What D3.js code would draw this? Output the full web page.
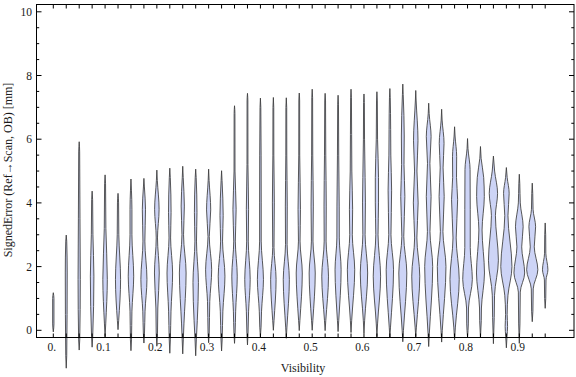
<!DOCTYPE html>
<html><head><meta charset="utf-8">
<script src="https://cdn.jsdelivr.net/npm/d3@7"></script>
<style>html,body{margin:0;padding:0;background:#fff;} svg{display:block;}</style>
</head><body><svg id="c" width="576" height="377"></svg>
<script>
const visibility = [0,0.025,0.05,0.075,0.1,0.125,0.15,0.175,0.2,0.225,0.25,0.275,0.3,0.325,0.35,0.375,0.4,0.425,0.45,0.475,0.5,0.525,0.55,0.575,0.6,0.625,0.65,0.675,0.7,0.725,0.75,0.775,0.8,0.825,0.85,0.875,0.9,0.925,0.95];
// each profile: [signedError, relative density] knots from min to max
const profiles = [
 [[-0.05,0],[0.2,0.08],[1.0,0.08],[1.18,0]],
 [[-1.19,0],[-0.8,0.06],[1.8,0.12],[2.8,0.06],[2.99,0]],
 [[-0.62,0],[-0.3,0.07],[1.6,0.14],[3.5,0.1],[5.6,0.06],[5.92,0]],
 [[-0.53,0],[-0.2,0.07],[1.7,0.22],[3.0,0.1],[4.1,0.06],[4.37,0]],
 [[-0.2,0],[0.2,0.08],[1.6,0.28],[3.2,0.1],[4.6,0.06],[4.88,0]],
 [[0.02,0],[0.3,0.08],[1.6,0.32],[3.0,0.1],[4.0,0.07],[4.3,0]],
 [[-0.64,0],[-0.3,0.07],[0.6,0.12],[1.7,0.34],[3.0,0.12],[3.8,0.12],[4.4,0.06],[4.75,0]],
 [[-0.4,0],[-0.1,0.07],[0.6,0.14],[1.6,0.38],[2.8,0.12],[3.8,0.2],[4.5,0.06],[4.77,0]],
 [[-0.5,0],[-0.1,0.08],[0.7,0.12],[1.8,0.3],[2.9,0.08],[3.8,0.28],[4.7,0.06],[5.03,0]],
 [[-0.72,0],[-0.3,0.07],[0.6,0.15],[1.8,0.35],[2.9,0.1],[3.7,0.16],[4.8,0.06],[5.09,0]],
 [[-0.74,0],[-0.3,0.07],[0.2,0.15],[1.8,0.42],[3.0,0.1],[3.9,0.2],[4.8,0.06],[5.15,0]],
 [[-0.8,0],[-0.3,0.08],[0.3,0.2],[1.5,0.34],[2.8,0.1],[3.7,0.16],[4.8,0.06],[5.06,0]],
 [[-0.39,0],[-0.1,0.07],[0.9,0.14],[1.9,0.38],[2.94,0.08],[3.78,0.26],[4.7,0.06],[5.06,0]],
 [[-0.65,0],[-0.3,0.07],[0.6,0.16],[1.7,0.42],[2.8,0.12],[3.6,0.2],[4.7,0.06],[5.01,0]],
 [[-0.41,0],[-0.1,0.07],[0.6,0.14],[1.7,0.34],[2.8,0.1],[3.8,0.2],[5.0,0.06],[6.8,0.05],[7.05,0]],
 [[-0.46,0],[-0.1,0.07],[0.6,0.14],[1.6,0.34],[2.8,0.1],[3.8,0.14],[5.2,0.06],[7.2,0.05],[7.44,0]],
 [[-0.2,0],[0.1,0.08],[0.6,0.14],[1.6,0.38],[2.8,0.1],[4.0,0.1],[7.0,0.05],[7.29,0]],
 [[0,0],[0.3,0.08],[1.6,0.34],[2.6,0.08],[4.0,0.12],[5.5,0.06],[7.0,0.05],[7.31,0]],
 [[-0.25,0],[0.1,0.08],[1.6,0.38],[2.7,0.1],[3.9,0.12],[5.5,0.06],[7.0,0.05],[7.3,0]],
 [[-0.01,0],[0.3,0.08],[1.8,0.38],[2.8,0.1],[3.8,0.15],[5.5,0.06],[7.2,0.05],[7.45,0]],
 [[0,0],[0.3,0.08],[1.8,0.38],[2.8,0.1],[3.9,0.14],[5.5,0.07],[7.3,0.05],[7.57,0]],
 [[-0.01,0],[0.3,0.08],[1.7,0.42],[2.8,0.12],[3.9,0.14],[5.5,0.08],[7.2,0.05],[7.44,0]],
 [[-0.04,0],[0.3,0.08],[1.9,0.38],[2.9,0.15],[3.9,0.14],[5.5,0.08],[7.1,0.05],[7.38,0]],
 [[-0.07,0],[0.3,0.08],[1.9,0.46],[3.0,0.16],[3.8,0.2],[5.0,0.1],[7.3,0.05],[7.57,0]],
 [[-0.1,0],[0.3,0.08],[1.8,0.46],[3.0,0.14],[4.0,0.18],[4.8,0.14],[6.0,0.07],[7.15,0.05],[7.42,0]],
 [[-0.2,0],[0.2,0.08],[1.7,0.46],[3.0,0.14],[4.0,0.2],[4.8,0.2],[6.0,0.08],[7.2,0.05],[7.49,0]],
 [[-0.22,0],[0.1,0.08],[1.9,0.46],[3.0,0.14],[4.4,0.22],[5.5,0.12],[6.3,0.1],[7.3,0.05],[7.59,0]],
 [[-0.36,0],[0,0.08],[1.8,0.5],[2.95,0.12],[4.2,0.26],[5.2,0.15],[6.1,0.18],[7.4,0.05],[7.73,0]],
 [[-0.2,0],[0.1,0.08],[1.7,0.5],[2.9,0.14],[4.0,0.3],[5.0,0.15],[5.95,0.28],[7.2,0.05],[7.53,0]],
 [[-0.51,0],[-0.1,0.08],[2.0,0.5],[3.1,0.16],[4.2,0.3],[5.24,0.15],[6.08,0.3],[6.8,0.06],[7.13,0]],
 [[-0.37,0],[0,0.08],[2.0,0.54],[3.1,0.16],[4.2,0.32],[5.1,0.18],[5.87,0.3],[6.6,0.06],[6.94,0]],
 [[-0.3,0],[0.1,0.1],[1.6,0.58],[2.9,0.2],[4.1,0.38],[4.8,0.24],[5.45,0.26],[6.1,0.06],[6.39,0]],
 [[-0.21,0],[0.2,0.1],[0.7,0.12],[1.6,0.6],[2.6,0.34],[3.8,0.34],[5.05,0.32],[5.7,0.06],[6.02,0]],
 [[-0.24,0],[0.3,0.1],[0.7,0.12],[1.8,0.5],[3.15,0.2],[4.2,0.48],[4.8,0.4],[5.4,0.08],[5.77,0]],
 [[-0.42,0],[0.4,0.1],[1.1,0.14],[2.2,0.62],[3.6,0.25],[4.3,0.52],[5.0,0.15],[5.47,0]],
 [[-0.55,0],[-0.2,0.08],[0.12,0.15],[0.5,0.1],[1.1,0.2],[2.0,0.7],[3.6,0.2],[4.3,0.35],[4.8,0.1],[5.11,0]],
 [[-0.41,0],[0.2,0.08],[1.2,0.12],[1.8,0.67],[2.62,0.3],[3.25,0.48],[4.0,0.12],[4.6,0.06],[4.9,0]],
 [[0.27,0],[0.6,0.08],[1.3,0.12],[1.9,0.7],[2.62,0.25],[3.25,0.42],[3.8,0.1],[4.3,0.06],[4.62,0]],
 [[0.69,0],[1.0,0.07],[1.58,0.1],[1.9,0.34],[2.42,0.08],[3.0,0.06],[3.37,0]]
];
const xTickLabels = [0,0.1,0.2,0.3,0.4,0.5,0.6,0.7,0.8,0.9];
const yTickLabels = [0,2,4,6,8,10];
const yMinorTicks = [-0.0,0.5,1,1.5,2,2.5,3,3.5,4,4.5,5,5.5,6,6.5,7,7.5,8,8.5,9,9.5,10];

const svg = d3.select('#c');
const frame = {l:36.5, r:574, t:4.5, b:337.5};
const x = d3.scaleLinear().domain([0,0.95]).range([53.3,545.2]);
const y = d3.scaleLinear().domain([0,10]).range([330.3,11.8]);
const w = d3.scaleLinear().domain([0,1]).range([0,8]);

const gV = svg.append('g');
visibility.forEach((v,i)=>{
  const cx = x(v);
  const area = d3.area()
    .y(d=>y(d[0]))
    .x0(d=>cx - w(d[1]))
    .x1(d=>cx + w(d[1]))
    .curve(d3.curveMonotoneY);
  gV.append('path').attr('d', area(profiles[i]))
    .attr('fill','#cdd4f6')
    .attr('stroke','#3c3c3c').attr('stroke-opacity',0.85).attr('stroke-width',1)
    .attr('stroke-linejoin','round');
});

// frame
const gF = svg.append('g').attr('stroke','#000').attr('stroke-width',1).attr('fill','none');
gF.append('rect').attr('x',frame.l).attr('y',frame.t).attr('width',frame.r-frame.l).attr('height',frame.b-frame.t);
// x ticks at each category, top and bottom
visibility.forEach(v=>{
  gF.append('line').attr('x1',x(v)).attr('x2',x(v)).attr('y1',frame.b).attr('y2',frame.b-4);
  gF.append('line').attr('x1',x(v)).attr('x2',x(v)).attr('y1',frame.t).attr('y2',frame.t+4);
});
yMinorTicks.forEach(t=>{
  const major = Math.abs(t/2 - Math.round(t/2))<1e-6;
  const len = major?5:2.7;
  gF.append('line').attr('x1',frame.l).attr('x2',frame.l+len).attr('y1',y(t)).attr('y2',y(t));
  gF.append('line').attr('x1',frame.r).attr('x2',frame.r-len).attr('y1',y(t)).attr('y2',y(t));
});

const font = "'Liberation Serif','Times New Roman',serif";
const gT = svg.append('g').attr('font-family',font).attr('font-size',11.5).attr('fill','#1a1a1a');
xTickLabels.forEach(t=>{
  gT.append('text').attr('x',x(t)-1.6).attr('y',351).attr('text-anchor','middle')
    .text(t===0?'0.':d3.format('.1f')(t));
});
yTickLabels.forEach(t=>{
  gT.append('text').attr('x',32).attr('y',y(t)+4).attr('text-anchor','end').text(t);
});
svg.append('text').attr('font-family',font).attr('font-size',12).attr('fill','#1a1a1a')
  .attr('x',303).attr('y',372).attr('text-anchor','middle').text('Visibility');
svg.append('text').attr('font-family',font).attr('font-size',12).attr('fill','#1a1a1a')
  .attr('transform','translate(12,170) rotate(-90)').attr('text-anchor','middle')
  .text('SignedError (Ref\u2192Scan, OB) [mm]');
</script></body></html>
